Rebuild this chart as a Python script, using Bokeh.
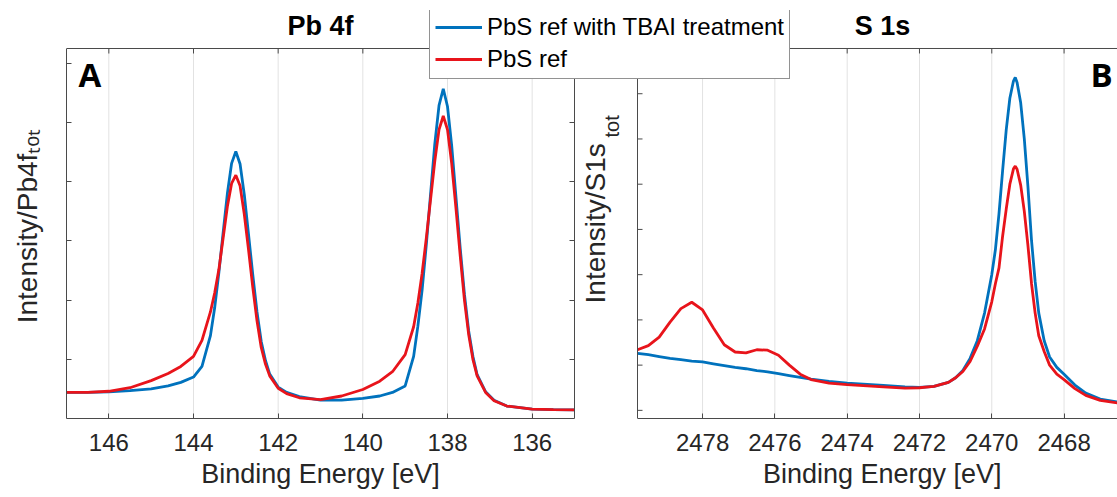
from bokeh.plotting import figure
from bokeh.models import (Range1d, FixedTicker, LinearAxis, Label, Legend,
                          LegendItem, ColumnDataSource, Span)
from bokeh.layouts import row
from bokeh.embed import file_html
from bokeh.resources import INLINE

# ---------------- data ----------------
pb_be = [147.0, 146.5, 146.0, 145.5, 145.0, 144.6, 144.3, 144.0, 143.8, 143.6,
         143.5, 143.4, 143.3, 143.2, 143.1, 143.0, 142.9, 142.8, 142.7, 142.6,
         142.5, 142.4, 142.3, 142.2, 142.0, 141.8, 141.5, 141.0, 140.5, 140.0,
         139.6, 139.3, 139.0, 138.8, 138.7, 138.6, 138.5, 138.4, 138.3, 138.2,
         138.1, 138.0, 137.9, 137.8, 137.7, 137.6, 137.5, 137.4, 137.3, 137.1,
         136.9, 136.6, 136.0, 135.5, 135.0]
pb_tbai = [0.44, 0.44, 0.45, 0.47, 0.50, 0.55, 0.61, 0.70, 0.88, 1.40,
           1.87, 2.47, 3.14, 3.80, 4.31, 4.51, 4.30, 3.78, 3.11, 2.43,
           1.80, 1.30, 0.98, 0.75, 0.53, 0.44, 0.37, 0.31, 0.31, 0.34,
           0.38, 0.44, 0.55, 1.05, 1.56, 2.17, 2.94, 3.79, 4.64, 5.29,
           5.57, 5.27, 4.60, 3.74, 2.88, 2.10, 1.48, 1.05, 0.74, 0.45,
           0.31, 0.21, 0.16, 0.15, 0.145]
pb_ref = [0.44, 0.44, 0.46, 0.52, 0.64, 0.76, 0.88, 1.05, 1.32, 1.80,
          2.12, 2.52, 3.05, 3.58, 3.97, 4.11, 3.93, 3.45, 2.85, 2.22,
          1.65, 1.20, 0.92, 0.72, 0.51, 0.42, 0.35, 0.32, 0.38, 0.49,
          0.63, 0.79, 1.08, 1.55, 1.95, 2.45, 3.05, 3.70, 4.35, 4.88,
          5.11, 4.88, 4.30, 3.55, 2.75, 2.00, 1.42, 1.00, 0.72, 0.44,
          0.30, 0.21, 0.16, 0.15, 0.145]

s_be = [2479.8, 2479.5, 2479.2, 2478.9, 2478.6, 2478.3, 2478.0, 2477.7, 2477.4,
        2477.1, 2476.8, 2476.5, 2476.2, 2475.9, 2475.6, 2475.3, 2475.0, 2474.5,
        2474.0, 2473.0, 2472.4, 2472.0, 2471.6, 2471.2, 2471.0, 2470.8, 2470.6,
        2470.4, 2470.2, 2470.0, 2469.9, 2469.8, 2469.7, 2469.6, 2469.5, 2469.4,
        2469.35, 2469.3, 2469.2, 2469.1, 2469.0, 2468.9, 2468.8, 2468.7,
        2468.55, 2468.4, 2468.2, 2468.0, 2467.7, 2467.4, 2467.0, 2466.5]
s_tbai = [1.26, 1.23, 1.19, 1.15, 1.12, 1.09, 1.07, 1.03, 0.99,
          0.95, 0.92, 0.88, 0.85, 0.81, 0.77, 0.73, 0.69, 0.64,
          0.60, 0.55, 0.52, 0.51, 0.53, 0.62, 0.72, 0.88, 1.15,
          1.54, 2.15, 3.00, 3.55, 4.35, 5.30, 6.20, 6.90, 7.28,
          7.36, 7.25, 6.80, 6.00, 4.95, 3.75, 2.85, 2.15,
          1.54, 1.18, 0.95, 0.80, 0.56, 0.38, 0.25, 0.18]
s_ref = [1.34, 1.43, 1.62, 1.95, 2.25, 2.39, 2.22, 1.82, 1.45,
         1.29, 1.27, 1.34, 1.33, 1.22, 1.00, 0.80, 0.68, 0.60,
         0.57, 0.52, 0.49, 0.50, 0.53, 0.62, 0.72, 0.86, 1.08,
         1.42, 1.80, 2.40, 2.80, 3.15, 3.85, 4.45, 5.00, 5.34,
         5.40, 5.33, 4.98, 4.40, 3.65, 2.80, 2.15, 1.65,
         1.30, 1.00, 0.80, 0.68, 0.48, 0.33, 0.22, 0.16]

pb_xticks = [136, 138, 140, 142, 144, 146]
pb_yticks = [1, 2, 3, 4, 5, 6]
s_xticks = [2468, 2470, 2472, 2474, 2476, 2478]
s_yticks = [0, 1, 2, 3, 4, 5, 6, 7]

series_names = ["PbS ref with TBAI treatment", "PbS ref"]
x_title = "Binding Energy [eV]"
pb_ylabel = "Intensity/Pb4f\u209c\u2092\u209c"

# ---------------- style ----------------
FONT = "Liberation Sans"
BLUE = "#0072BD"
RED = "#E8141B"
AX = "#4a4a4a"
TXT = "#262626"
GRID = "#e2e2e2"
LW = 2.8


def style_axis(ax, labels=True):
    ax.major_tick_in = 5
    ax.major_tick_out = 0
    ax.minor_tick_line_color = None
    ax.axis_line_color = AX
    ax.major_tick_line_color = AX
    ax.axis_line_width = 1
    ax.axis_label_text_font = FONT
    ax.axis_label_text_font_size = "27px"
    ax.axis_label_text_font_style = "normal"
    ax.axis_label_text_color = TXT
    if labels:
        ax.major_label_text_font = FONT
        ax.major_label_text_font_size = "24px"
        ax.major_label_text_color = TXT
        ax.major_label_standoff = 15
        ax.axis_label_standoff = 5
    else:
        ax.major_label_text_font_size = "1px"
        ax.major_label_text_color = None
        ax.major_label_standoff = 0


# ---------------- left panel: Pb 4f ----------------
P_LEFT, P_RIGHT, P_BOT, P_TOP = 147.0, 135.0, 0.0, 6.25
src1 = ColumnDataSource(dict(be=pb_be, tbai=pb_tbai, ref=pb_ref))
p1 = figure(width=578, height=497, x_range=Range1d(P_LEFT, P_RIGHT), y_range=Range1d(P_BOT, 6.892),
            output_backend="svg", toolbar_location=None, title_location=None,
            min_border_left=66, min_border_right=4, min_border_top=10, min_border_bottom=79)
p1.background_fill_color = None
p1.border_fill_color = "white"
p1.outline_line_color = None
p1.xgrid.visible = False
p1.ygrid.visible = False

p1.xaxis.ticker = FixedTicker(ticks=pb_xticks)
p1.xaxis.axis_label = x_title
style_axis(p1.xaxis[0], True)
p1.yaxis.ticker = FixedTicker(ticks=pb_yticks)
p1.yaxis.bounds = (P_BOT, P_TOP)
p1.yaxis.axis_label = pb_ylabel + "\u00a0" * 3
style_axis(p1.yaxis[0], False)
p1.yaxis.axis_label_text_font_size = "28px"
p1.yaxis.axis_label_standoff = 24
right1 = LinearAxis(ticker=FixedTicker(ticks=pb_yticks), bounds=(P_BOT, P_TOP))
style_axis(right1, False)
p1.add_layout(right1, "right")

# grid lines and inward top ticks of the Pb 4f box, from the tick list
p1.segment(x0=pb_xticks, y0=[P_BOT] * len(pb_xticks), x1=pb_xticks, y1=[P_TOP] * len(pb_xticks),
           line_color=GRID, line_width=1)
p1.segment(x0=pb_xticks, y0=[P_TOP] * len(pb_xticks), x1=pb_xticks,
           y1=[P_TOP - 5 / 59.2] * len(pb_xticks), line_color=AX, line_width=1)

p1.line(x="be", y="tbai", source=src1, line_color=BLUE, line_width=LW)
p1.line(x="be", y="ref", source=src1, line_color=RED, line_width=LW)

p1.add_layout(Span(location=P_TOP, dimension="width", line_color=AX, line_width=1))
p1.add_layout(Label(x=141.0, y=6.628, text="Pb 4f", text_font=FONT,
                    text_font_size="27px", text_font_style="bold", text_color="black",
                    text_align="center", text_baseline="alphabetic"))
p1.add_layout(Label(x=146.717, y=5.81, text="A", text_font="Open Sans",
                    text_font_size="33px", text_font_style="bold", text_color="black",
                    text_align="left", text_baseline="alphabetic"))

# ---------------- right panel: S 1s (its frame also hosts the shared legend) ----------------
S_LEFT, S_RIGHT, S_BOT, S_TOP = 2479.8, 2466.522, -0.18, 8.0
src2 = ColumnDataSource(dict(be=s_be, tbai=s_tbai, ref=s_ref))
p2 = figure(width=688, height=497, x_range=Range1d(2485.554, S_RIGHT), y_range=Range1d(S_BOT, 8.840),
            output_backend="svg", toolbar_location=None, title_location=None,
            min_border_left=0, min_border_right=0, min_border_top=10, min_border_bottom=79,
            margin=(0, 0, 0, -149))
p2.background_fill_color = None
p2.border_fill_color = None
p2.outline_line_color = None
p2.xgrid.visible = False
p2.ygrid.visible = False
p2.yaxis.visible = False

p2.xaxis.ticker = FixedTicker(ticks=s_xticks)
p2.xaxis.bounds = (S_RIGHT, S_LEFT)
p2.xaxis.axis_label = "\u00a0" * 29 + x_title
style_axis(p2.xaxis[0], True)

# grid lines and inward ticks of the S 1s box, from the tick lists
p2.segment(x0=s_xticks, y0=[S_BOT] * len(s_xticks), x1=s_xticks, y1=[S_TOP] * len(s_xticks),
           line_color=GRID, line_width=1)
p2.segment(x0=s_xticks, y0=[S_TOP] * len(s_xticks), x1=s_xticks,
           y1=[S_TOP - 5 / 45.23] * len(s_xticks), line_color=AX, line_width=1)
p2.segment(x0=[S_LEFT] * len(s_yticks), y0=s_yticks, x1=[S_LEFT - 5 / 36.15] * len(s_yticks),
           y1=s_yticks, line_color=AX, line_width=1)

b2 = p2.line(x="be", y="tbai", source=src2, line_color=BLUE, line_width=LW)
r2 = p2.line(x="be", y="ref", source=src2, line_color=RED, line_width=LW)

p2.add_layout(Span(location=S_LEFT, dimension="height", line_color=AX, line_width=1))
p2.add_layout(Span(location=S_TOP, dimension="width", line_color=AX, line_width=1))

p2.add_layout(Label(x=2473.023, y=8.496, text="S 1s", text_font=FONT,
                    text_font_size="27px", text_font_style="bold", text_color="black",
                    text_align="center", text_baseline="alphabetic"))
p2.add_layout(Label(x=2480.954, y=2.363, text="Intensity/S1s", angle=1.5707963,
                    text_font=FONT, text_font_size="28px", text_color=TXT,
                    text_align="left", text_baseline="alphabetic"))
p2.add_layout(Label(x=2480.517, y=6.033, text="tot", angle=1.5707963,
                    text_font=FONT, text_font_size="20px", text_color=TXT,
                    text_align="left", text_baseline="alphabetic"))
p2.add_layout(Label(x=2467.269, y=7.421, text="B", text_font="Open Sans",
                    text_font_size="33px", text_font_style="bold", text_color="black",
                    text_align="left", text_baseline="alphabetic"))

legend = Legend(items=[LegendItem(label=series_names[0], renderers=[b2]),
                       LegendItem(label=series_names[1], renderers=[r2])],
                location=(0, 339), padding=5, spacing=4, margin=0,
                glyph_width=47, glyph_height=20, label_standoff=5,
                label_text_font=FONT, label_text_font_size="24px", label_text_color="black",
                border_line_color=TXT, border_line_width=1,
                background_fill_color="white", background_fill_alpha=1.0)
p2.add_layout(legend)

layout = row(p1, p2)
open("out.html", "w").write(file_html(layout, INLINE))
